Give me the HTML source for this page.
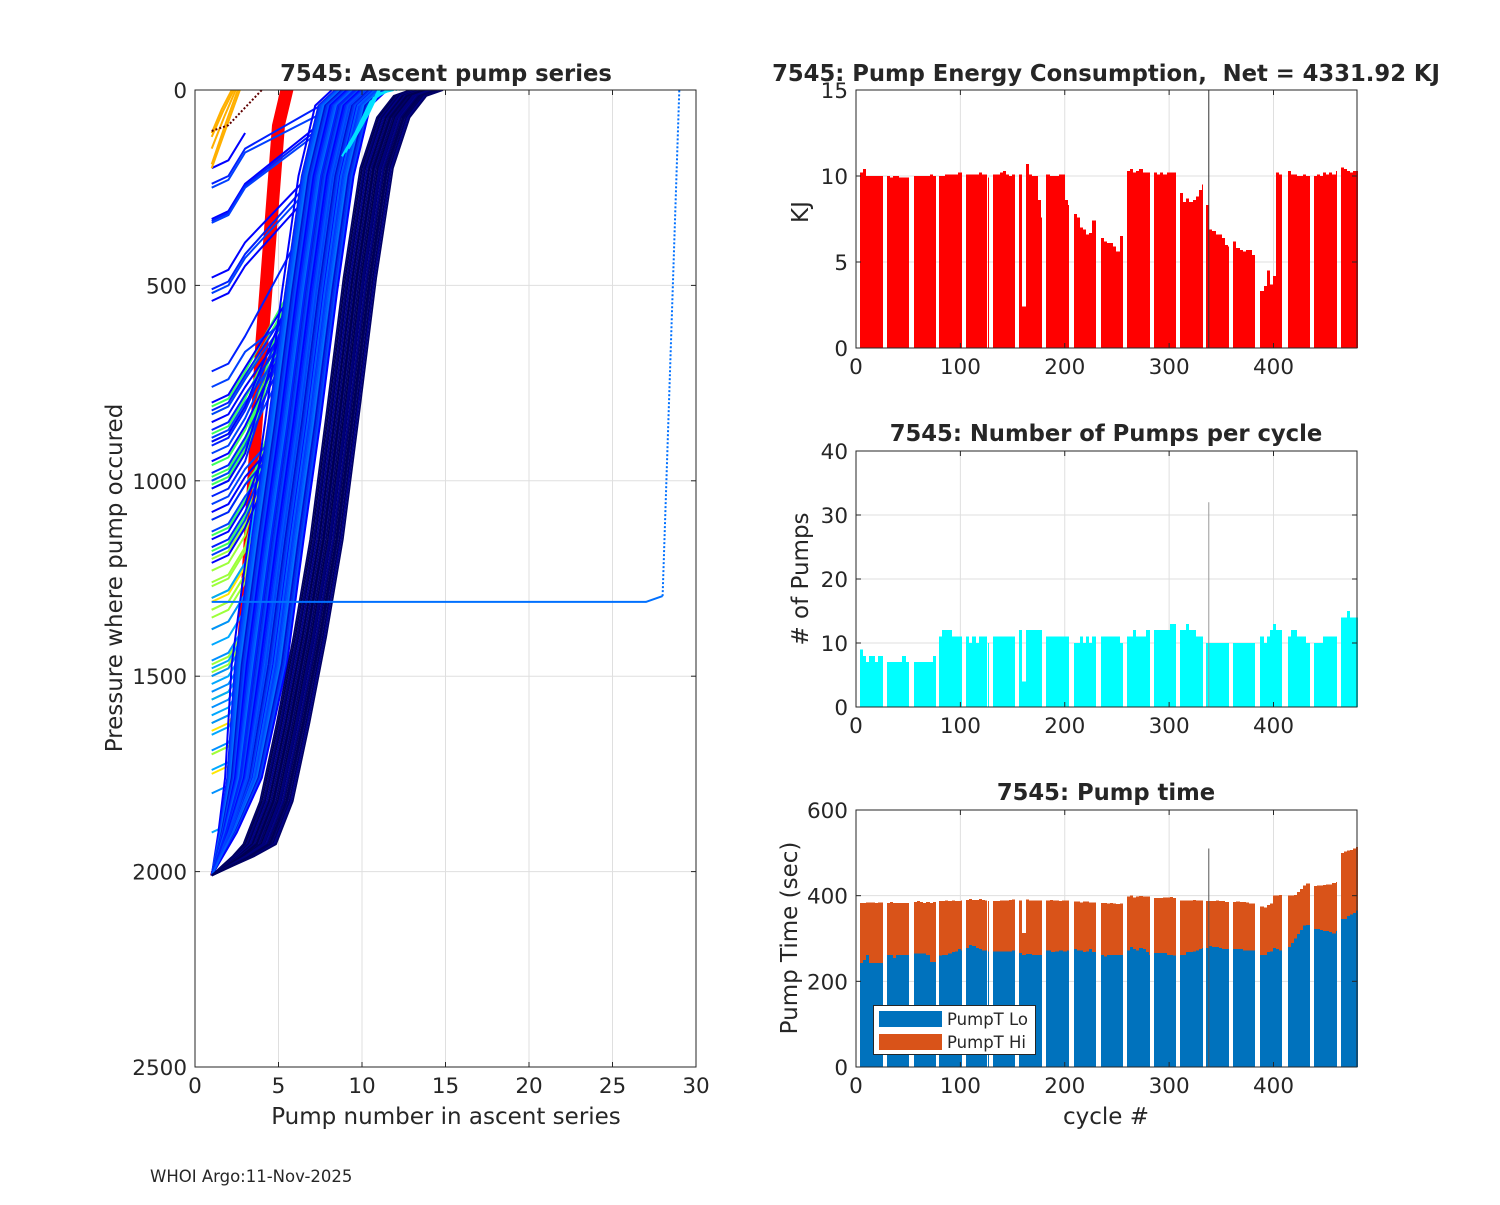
<!DOCTYPE html>
<html><head><meta charset="utf-8"><style>
html,body{margin:0;padding:0;background:#fff}
svg text{font-family:"DejaVu Sans","Liberation Sans",sans-serif;fill:#262626}
.bars rect{shape-rendering:crispEdges}
</style></head><body>
<svg id="fig" width="1500" height="1200" viewBox="0 0 1500 1200" xmlns="http://www.w3.org/2000/svg">
<rect width="1500" height="1200" fill="#fff"/>
<g id="left"></g>
<g id="p1" class="bars"></g>
<g id="p2" class="bars"></g>
<g id="p3" class="bars"></g>
<text x="150" y="1182" font-size="16.5">WHOI Argo:11-Nov-2025</text>
</svg>
<script>
// ---------- bar chart data (cycle segments) ----------
const segStart=[4,30,56,80,106,127,132,157,183,209,235,260,286,311,336,362,388,414,439,465];
const segEnd  =[25,50,76,101,125,127,152,178,204,229,255,281,306,332,357,382,408,434,460,480];
const energyVals=[
[10.2,10.4,10.0,10.0,10.0,10.0,10.0,10.0],[10.0,9.9,10.0,10.0,9.9,9.9,9.9],[10.0,10.0,10.0,10.0,10.0,10.1,10.0],
[10.0,10.0,10.1,10.1,10.1,10.1,10.2,10.2],[10.1,10.1,10.1,10.1,10.2,10.1,10.1],[9.9],[10.1,10.1,10.2,10.3,10.1,10.0,10.1],
[10.1,2.4,10.7,10.1,10.0,10.0,8.6,7.6],[10.1,10.0,10.0,10.0,10.1,10.1,8.6,8.3],[7.8,7.6,7.0,6.9,6.6,6.7,7.4],
[6.4,6.2,6.1,6.1,5.9,5.6,6.5],[10.3,10.4,10.2,10.3,10.4,10.2,10.2,10.2],[10.2,10.1,10.2,10.1,10.2,10.2,10.2],
[9.0,8.5,8.7,8.5,8.6,8.8,9.2,9.5],[8.3,6.9,6.8,6.6,6.6,6.4,6.0,5.9],[6.2,5.8,5.7,5.6,5.7,5.7,5.4],
[3.3,3.6,4.5,3.7,4.2,10.2,10.1],[10.3,10.1,10.1,10.0,10.0,10.1,10.0],[10.0,10.1,10.0,10.2,10.1,10.2,10.1,10.3],
[10.5,10.4,10.3,10.2,10.3,10.3]];
const pumpVals=[
[9,8,7,8,8,7,8,8],[7,7,7,7,7,8,7],[7,7,7,7,7,7,8],[11,12,12,12,11,11,11,11],[11,10,11,10,11,11,11],[10],
[11,11,11,11,11,11,11],[12,4,12,12,12,12,12,12],[11,11,11,11,11,11,11,11],[10,10,11,10,11,10,11],
[11,11,11,11,11,11,10],[11,11,12,11,11,11,12,12],[12,12,12,12,12,13,13],[12,12,13,12,12,11,11,11],
[10,10,10,10,10,10,10,10],[10,10,10,10,10,10,10],[11,10,11,12,13,12,12],[11,12,12,11,11,11,10],
[10,10,10,11,11,11,11,11],[14,14,15,14,14,14]];
const loVals=[
[243,250,262,243,243,243,243,243],[262,262,255,262,262,262,262],[265,265,265,265,262,245,245],
[260,262,262,265,268,270,275,272],[278,285,282,278,275,272,272],[270],[270,270,270,270,270,270,272],
[266,262,264,264,262,262,262,262],[272,268,270,272,270,272,275],[275,272,272,268,270,275,268],
[262,258,262,262,262,262,262],[272,280,275,272,278,275,268,262],[266,266,266,266,262,262,260],
[262,262,268,268,270,272,275,278],[278,282,280,280,278,276,276,276],[275,275,275,272,272,272,272],
[262,262,268,270,278,275,272],[280,290,300,310,320,330,332],[322,322,320,318,318,315,312,318],
[345,345,352,356,360,365]];
const totalVals=[
[383,383,384,384,384,383,384,384],[383,385,383,383,383,383,383],[385,387,385,383,385,383,385],
[388,388,389,388,389,388,388,389],[390,392,390,390,392,390,389],[388],[388,388,389,389,389,390,391],
[389,313,391,389,389,389,389,389],[389,390,389,389,388,389,389,389],[386,386,384,386,386,384,384],
[383,383,382,383,382,380,382],[398,400,396,398,399,398,398,398],[395,395,395,396,396,397,395],
[389,389,389,389,390,389,389,389],[388,388,388,389,388,387,385,385],[385,386,385,385,384,382,382],
[375,372,378,382,400,400,402],[400,400,402,408,415,424,428],[422,424,424,425,426,426,430,432],
[500,503,505,507,510,514]];
const spikeCycle=[338];
const spikeEnergy=[15];
const spikePumps=[32];
const spikeTime=[510];

// ---------- ascent profile data ----------
const navyBase=[2010,1985,1960,1930,1820,1620,1400,1150,820,480,200,70,15,0];
const navyShifts=[-1.1,-1.0,-0.9,-0.8,-0.7,-0.6,-0.55,-0.45,-0.35,-0.25,-0.15,-0.05,0.05,0.15,0.25,0.35,0.45,0.55,0.65,0.75,0.85,-0.3,0.1,0.5];
const blueBase=[2010,1900,1760,1470,1150,850,520,220,40,0];
const blueShifts=[-1.8,-1.6,-1.5,-1.4,-1.3,-1.2,-1.1,-1.0,-0.9,-0.8,-0.7,-0.6,-0.5,-0.4,-0.3,-0.2,-0.1,0,0.1,0.2,0.3,0.4,0.5,0.6,0.7,0.8,0.9,1.0,1.1,1.2,1.3,1.4,1.5,-0.45,0.25,0.75];
const redBase=[2010,1870,1300,650,90,0];
const redShifts=[-0.3,-0.2,-0.1,0,0.1,0.2,0.3,-0.25,0.05,0.25];
const shortBlueP0=[200,240,250,330,335,340,480,510,520,540,720,760,800,820,830,850,870,890,900,910,930,950,980,1000,1020,1040,1060,1080,1100,1130,1150,1170,1190,1210];
const shortGreenP0=[810,830,880,900,960,990,1000,1010,1020,1100,1140,1180];
const shortYGreenP0=[1200,1230,1260,1270,1300,1330,1350,1380,1470,1490,1560,1620,1700];
const shortYellowP0=[1300,1310,1330,1500,1560,1640,1700,1750];
const shortLBlueP0=[1300,1380,1420,1460,1480,1500,1520,1540,1560,1580,1600,1620,1650,1690,1740,1800,1900];
const orangeP0=[110,120,150,190,200];
const brownPumps=[1,2,3,4];
const brownP=[105,90,45,0];
const cyanP0=[170,160,150,130,120];
const outlierPumps=[1,27,28,29];
const outlierP=[1310,1310,1295,0];

const NS="http://www.w3.org/2000/svg";
function mk(tag,attrs,parent){const e=document.createElementNS(NS,tag);for(const k in attrs)e.setAttribute(k,attrs[k]);parent.appendChild(e);return e;}

function axes(g,x0,y0,w,h,xt,xlab,yt,ylab,xs,ys){
  for(let i=0;i<xt.length;i++){const x=xs(xt[i]);
    if(x>x0+1&&x<x0+w-1){const l=mk('line',{x1:x,x2:x,y1:y0,y2:y0+h,stroke:'#dfdfdf','stroke-width':1},g);
      
      }}
  for(let i=0;i<yt.length;i++){const y=ys(yt[i]);
    if(y>y0+1&&y<y0+h-1){const l=mk('line',{x1:x0,x2:x0+w,y1:y,y2:y,stroke:'#dfdfdf','stroke-width':1},g);
      
      }}
}
function frame(g,x0,y0,w,h,xt,xlab,yt,ylab,xs,ys){
  const r=mk('rect',{x:x0,y:y0,width:w,height:h,fill:'none',stroke:'#262626','stroke-width':1},g);
  
  
  for(let i=0;i<xt.length;i++){const x=xs(xt[i]);
    mk('line',{x1:x,x2:x,y1:y0+h,y2:y0+h-5,stroke:'#262626'},g);
    mk('line',{x1:x,x2:x,y1:y0,y2:y0+5,stroke:'#262626'},g);
    const t=mk('text',{x:x,y:y0+h+26,'text-anchor':'middle','font-size':21.5},g);t.textContent=xlab[i];
    
    }
  for(let i=0;i<yt.length;i++){const y=ys(yt[i]);
    mk('line',{x1:x0,x2:x0+5,y1:y,y2:y,stroke:'#262626'},g);
    mk('line',{x1:x0+w,x2:x0+w-5,y1:y,y2:y,stroke:'#262626'},g);
    const t=mk('text',{x:x0-8,y:y+8,'text-anchor':'end','font-size':21.5},g);t.textContent=ylab[i];
    
    }
}
function label(g,txt,x,y,opts,name){const t=mk('text',Object.assign({x:x,y:y,'text-anchor':'middle'},opts),g);t.textContent=txt;
  
  return t;}

// ---------- left plot ----------
const L=document.getElementById('left');
const Lx=p=>195+p*501/30, Ly=P=>90+P*977/2500;
axes(L,195,90,501,977,[0,5,10,15,20,25,30],null,[0,500,1000,1500,2000,2500],null,Lx,Ly);
const curveG=mk('g',{},L);


const clip=mk('clipPath',{id:'lc'},L);mk('rect',{x:195,y:90,width:501,height:977},clip);
curveG.setAttribute('clip-path','url(#lc)');
function poly(pts,color,w,name,dash){
  const el=mk('polyline',{points:pts.map(q=>Lx(q[0]).toFixed(1)+','+Ly(q[1]).toFixed(1)).join(' '),fill:'none',stroke:color,'stroke-width':w,'stroke-linejoin':'round'},curveG);
  if(dash)el.setAttribute('stroke-dasharray',dash);
  
  
}
function shifted(base,s,pumps){return base.map((P,i)=>{const pu=pumps?pumps[i]:i+1;const f=Math.min(1,Math.max(0,(pu-1)/3));return [pu+s*f,P];});}
const redPumps=[1,2,3,4,5,5.5];
redShifts.forEach(s=>poly(shifted(redBase,s,redPumps),'#ff0000',3,'red-profile'));
function shortCurve(P0,s,color,name){
  const pts=[[1,P0],[2,P0-20],[3,P0-90]];
  shifted(blueBase,s).forEach(q=>{if(q[1]<P0-200&&q[0]>3)pts.push(q);});
  poly(pts,color,2,name);
}
shortYellowP0.forEach((P,i)=>shortCurve(P,-1.6+(i%4)*0.2,'#ffe600','yellow-profile'));
shortYGreenP0.forEach((P,i)=>shortCurve(P,-1.5+(i%5)*0.25,'#9cff3a','yellowgreen-profile'));
shortGreenP0.forEach((P,i)=>shortCurve(P,-1.4+(i%5)*0.25,'#3cff5c','green-profile'));
shortLBlueP0.forEach((P,i)=>shortCurve(P,-1.4+(i%6)*0.3,i%2?'#0090ff':'#00a8ff','lightblue-profile'));
const bluePal=['#0000ff','#0020ff','#0040ff','#0058ff','#0070ff','#0010d8','#0030f0','#0048ff'];
shortBlueP0.forEach((P,i)=>shortCurve(P,-1.2+(i%6)*0.35,bluePal[i%3],'blue-short-profile'));
blueShifts.forEach((s,i)=>poly(shifted(blueBase,s),bluePal[i%bluePal.length],2,'blue-profile'));
const navyPal=['#000066','#000050','#00007a','#00005a','#000088'];
navyShifts.forEach((s,i)=>poly(shifted(navyBase,s),navyPal[i%navyPal.length],1.8,'navy-profile'));
cyanP0.forEach((P,i)=>poly([[8.8+i*0.2,P],[9.6+i*0.2,P-60],[10.5+i*0.2,P-140],[11.5+i*0.2,0]],'#00e0ff',2,'cyan-profile'));
orangeP0.forEach((P,i)=>poly([[1,P],[1.6+i*0.08,P*0.45],[2.2+i*0.12,0]],'#ffb000',2,'orange-profile'));
poly(brownPumps.map((p,i)=>[p,brownP[i]]),'#600000',2,'darkred-profile','2 2');
poly(outlierPumps.slice(0,3).map((p,i)=>[p,outlierP[i]]),'#0070ff',2,'outlier-profile');
poly(outlierPumps.slice(2).map((p,i)=>[p,outlierP[i+2]]),'#0070ff',2,'outlier-profile-top','2 2');
frame(L,195,90,501,977,[0,5,10,15,20,25,30],['0','5','10','15','20','25','30'],[0,500,1000,1500,2000,2500],['0','500','1000','1500','2000','2500'],Lx,Ly);
label(L,'7545: Ascent pump series',446,81,{'font-size':22.7,'font-weight':'bold',fill:'#000'},'left-title');
label(L,'Pump number in ascent series',446,1124,{'font-size':23},'x-axis-title');
label(L,'Pressure where pump occured',0,0,{'font-size':23,transform:'translate(122,578) rotate(-90)'},'y-axis-title');

// ---------- bar plots ----------
const Cx=c=>856+c*501/480;
function chunks(si,vals,fn){
  const s=segStart[si],e=segEnd[si];const n=vals.length;const len=Math.ceil((e-s+1)/n);
  for(let k=0;k<n;k++){const c0=s+k*len;if(c0>e)break;const c1=Math.min(e,c0+len-1);
    const xa=Math.round(Cx(c0-0.5)), xb=Math.round(Cx(c1+0.5));fn(xa,xb,vals[k]);}
}
// energy
(function(){
  const y0=90,h=258,Y=v=>y0+h-Math.min(v,15)*h/15;const g=document.getElementById('p1');
  axes(g,856,y0,501,h,[0,100,200,300,400],null,[0,5,10,15],null,Cx,Y);
  segStart.forEach((_,si)=>chunks(si,energyVals[si],(xa,xb,v)=>{const r=mk('rect',{x:xa,y:Y(v),width:xb-xa,height:Y(0)-Y(v),fill:'#ff0000'},g);
    
    }));
  spikeCycle.forEach((c,i)=>{const l=mk('line',{x1:Cx(c),x2:Cx(c),y1:Y(spikeEnergy[i]),y2:Y(0),stroke:'#333','stroke-width':1},g);
    
    });
  frame(g,856,y0,501,h,[0,100,200,300,400],['0','100','200','300','400'],[0,5,10,15],['0','5','10','15'],Cx,Y);
  label(g,'7545: Pump Energy Consumption,\u00a0 Net = 4331.92 KJ',1106,81,{'font-size':22.7,'font-weight':'bold',fill:'#000'},'energy-title');
  label(g,'KJ',0,0,{'font-size':23,transform:'translate(808,212) rotate(-90)'},'energy-y-title');
})();
// pumps
(function(){
  const y0=451,h=256,Y=v=>y0+h-Math.min(v,40)*h/40;const g=document.getElementById('p2');
  axes(g,856,y0,501,h,[0,100,200,300,400],null,[0,10,20,30,40],null,Cx,Y);
  segStart.forEach((_,si)=>chunks(si,pumpVals[si],(xa,xb,v)=>{const r=mk('rect',{x:xa,y:Y(v),width:xb-xa,height:Y(0)-Y(v),fill:'#00ffff'},g);
    
    }));
  spikeCycle.forEach((c,i)=>{const l=mk('line',{x1:Cx(c),x2:Cx(c),y1:Y(spikePumps[i]),y2:Y(0),stroke:'#999','stroke-width':1},g);
    
    });
  frame(g,856,y0,501,h,[0,100,200,300,400],['0','100','200','300','400'],[0,10,20,30,40],['0','10','20','30','40'],Cx,Y);
  label(g,'7545: Number of Pumps per cycle',1106,441,{'font-size':22.7,'font-weight':'bold',fill:'#000'},'pumps-title');
  label(g,'# of Pumps',0,0,{'font-size':23,transform:'translate(808,579) rotate(-90)'},'pumps-y-title');
})();
// pump time
(function(){
  const y0=810,h=257,Y=v=>y0+h-Math.min(v,600)*h/600;const g=document.getElementById('p3');
  axes(g,856,y0,501,h,[0,100,200,300,400],null,[0,200,400,600],null,Cx,Y);
  segStart.forEach((_,si)=>{
    chunks(si,totalVals[si],(xa,xb,v)=>{const r=mk('rect',{x:xa,y:Y(v),width:xb-xa,height:Y(0)-Y(v),fill:'#d95319'},g);
      
      });
    chunks(si,loVals[si],(xa,xb,v)=>{const r=mk('rect',{x:xa,y:Y(v),width:xb-xa,height:Y(0)-Y(v),fill:'#0072bd'},g);
      
      });
  });
  spikeCycle.forEach((c,i)=>{const l=mk('line',{x1:Cx(c),x2:Cx(c),y1:Y(spikeTime[i]),y2:Y(0),stroke:'#555','stroke-width':1},g);
    
    });
  frame(g,856,y0,501,h,[0,100,200,300,400],['0','100','200','300','400'],[0,200,400,600],['0','200','400','600'],Cx,Y);
  label(g,'7545: Pump time',1106,800,{'font-size':22.7,'font-weight':'bold',fill:'#000'},'pumptime-title');
  label(g,'Pump Time (sec)',0,0,{'font-size':23,transform:'translate(797,938) rotate(-90)'},'pumptime-y-title');
  label(g,'cycle #',1106,1124,{'font-size':23},'cycle-x-title');
  const lg=mk('g',{},g);
  
  
  mk('rect',{x:873.5,y:1005.5,width:162,height:49,fill:'#fff',stroke:'#262626'},lg);
  const s1=mk('rect',{x:879,y:1011,width:63,height:16,fill:'#0072bd'},lg);
  
  
  const s2=mk('rect',{x:879,y:1034,width:63,height:16,fill:'#d95319'},lg);
  
  
  const t1=mk('text',{x:947,y:1025,'font-size':16.5,fill:'#000'},lg);t1.textContent='PumpT Lo';
  
  
  const t2=mk('text',{x:947,y:1048,'font-size':16.5,fill:'#000'},lg);t2.textContent='PumpT Hi';
  
  
})();
</script>
</body></html>
